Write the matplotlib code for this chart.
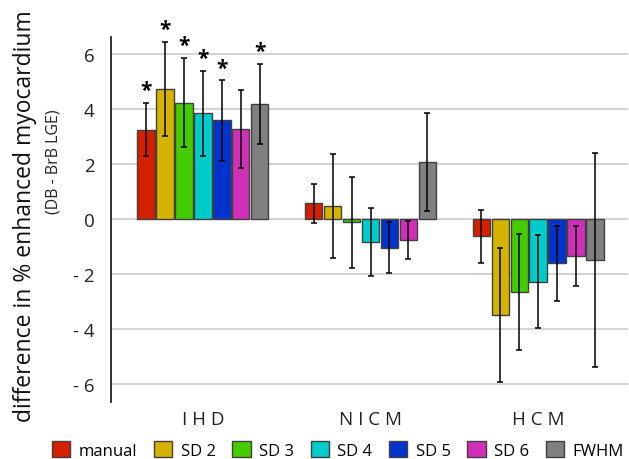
import numpy as np
import matplotlib
matplotlib.use("Agg")
import matplotlib.pyplot as plt
from matplotlib.patches import Patch

plt.rcParams["font.family"] = ["Open Sans", "DejaVu Sans"]

groups = ["IHD", "NICM", "HCM"]
methods = ["manual", "SD 2", "SD 3", "SD 4", "SD 5", "SD 6", "FWHM"]
colors = ["#d42000", "#d4b400", "#44cc00", "#00cccc", "#0033cc", "#d030b8", "#808080"]

# mean difference per method, one list per group
ihd_mean  = [3.26, 4.74, 4.24, 3.85, 3.59, 3.28, 4.19]
nicm_mean = [0.57, 0.48, -0.12, -0.84, -1.04, -0.76, 2.08]
hcm_mean  = [-0.63, -3.49, -2.64, -2.27, -1.61, -1.33, -1.49]

ihd_err  = [0.97, 1.72, 1.63, 1.55, 1.46, 1.43, 1.47]
nicm_err = [0.71, 1.88, 1.64, 1.23, 0.93, 0.70, 1.78]
hcm_err  = [0.98, 2.44, 2.11, 1.70, 1.37, 1.09, 3.90]

# significance markers (IHD only)
ihd_sig = [True, True, True, True, True, False, True]

yticks = [-6, -4, -2, 0, 2, 4, 6]
ytick_labels = ["- 6", "- 4", "- 2", "0", "2", "4", "6"]

means = [ihd_mean, nicm_mean, hcm_mean]
errs = [ihd_err, nicm_err, hcm_err]
sigs = [ihd_sig, [False] * 7, [False] * 7]

fig = plt.figure(figsize=(6.29, 4.60), dpi=100)
ax = fig.add_axes([0.1765, 0.124, 0.822, 0.793])

pitch = 0.113
width = 0.104
x = np.arange(len(groups))

for i, (m, c) in enumerate(zip(methods, colors)):
    xs = x + (i - 3) * pitch
    vals = [means[g][i] for g in range(3)]
    e = [errs[g][i] for g in range(3)]
    ax.bar(xs, vals, width, color=c, edgecolor="#404040", linewidth=1.0, zorder=2)
    ax.errorbar(xs, vals, yerr=e, fmt="none", ecolor="black", elinewidth=1.1,
                capsize=2.5, capthick=1.1, zorder=3)
    for g in range(3):
        if sigs[g][i]:
            ax.text(xs[g], vals[g] + e[g] + 0.45, "*", ha="center", va="center",
                    fontsize=15, fontweight="bold", clip_on=False, zorder=4)

ax.set_xlim(-0.548, 2.536)
ax.set_ylim(-6.65, 6.62)
ax.set_yticks(yticks)
ax.set_yticklabels(ytick_labels, fontsize=13.5, color="#222222")
ax.set_xticks(x)
ax.set_xticklabels(["I H D", "N I C M", "H C M"], fontsize=13.5, color="#222222")
ax.tick_params(axis="y", length=0, pad=12)
ax.tick_params(axis="x", length=0, pad=6)
ax.yaxis.grid(True, color="#d0d0d0", linewidth=1.3, zorder=0)
ax.set_axisbelow(True)
for s in ["top", "right", "bottom"]:
    ax.spines[s].set_visible(False)
ax.spines["left"].set_color("#222222")
ax.spines["left"].set_linewidth(1.3)

fig.text(0.040, 0.530, "difference in % enhanced myocardium", rotation=90,
         ha="center", va="center", fontsize=16.5, color="#111111")
fig.text(0.085, 0.648, "(DB - BrB LGE)", rotation=90, ha="center", va="center",
         fontsize=11.5, color="#222222")

handles = [Patch(facecolor=c, edgecolor="#404040", linewidth=1.0) for c in colors]
fig.legend(handles, methods, loc="center", bbox_to_anchor=(0.537, 0.02), ncol=7,
           frameon=False, fontsize=12, handlelength=1.1, handleheight=1.1,
           handletextpad=0.5, columnspacing=1.0, borderpad=0.2)

fig.savefig("out.png", dpi=100)
